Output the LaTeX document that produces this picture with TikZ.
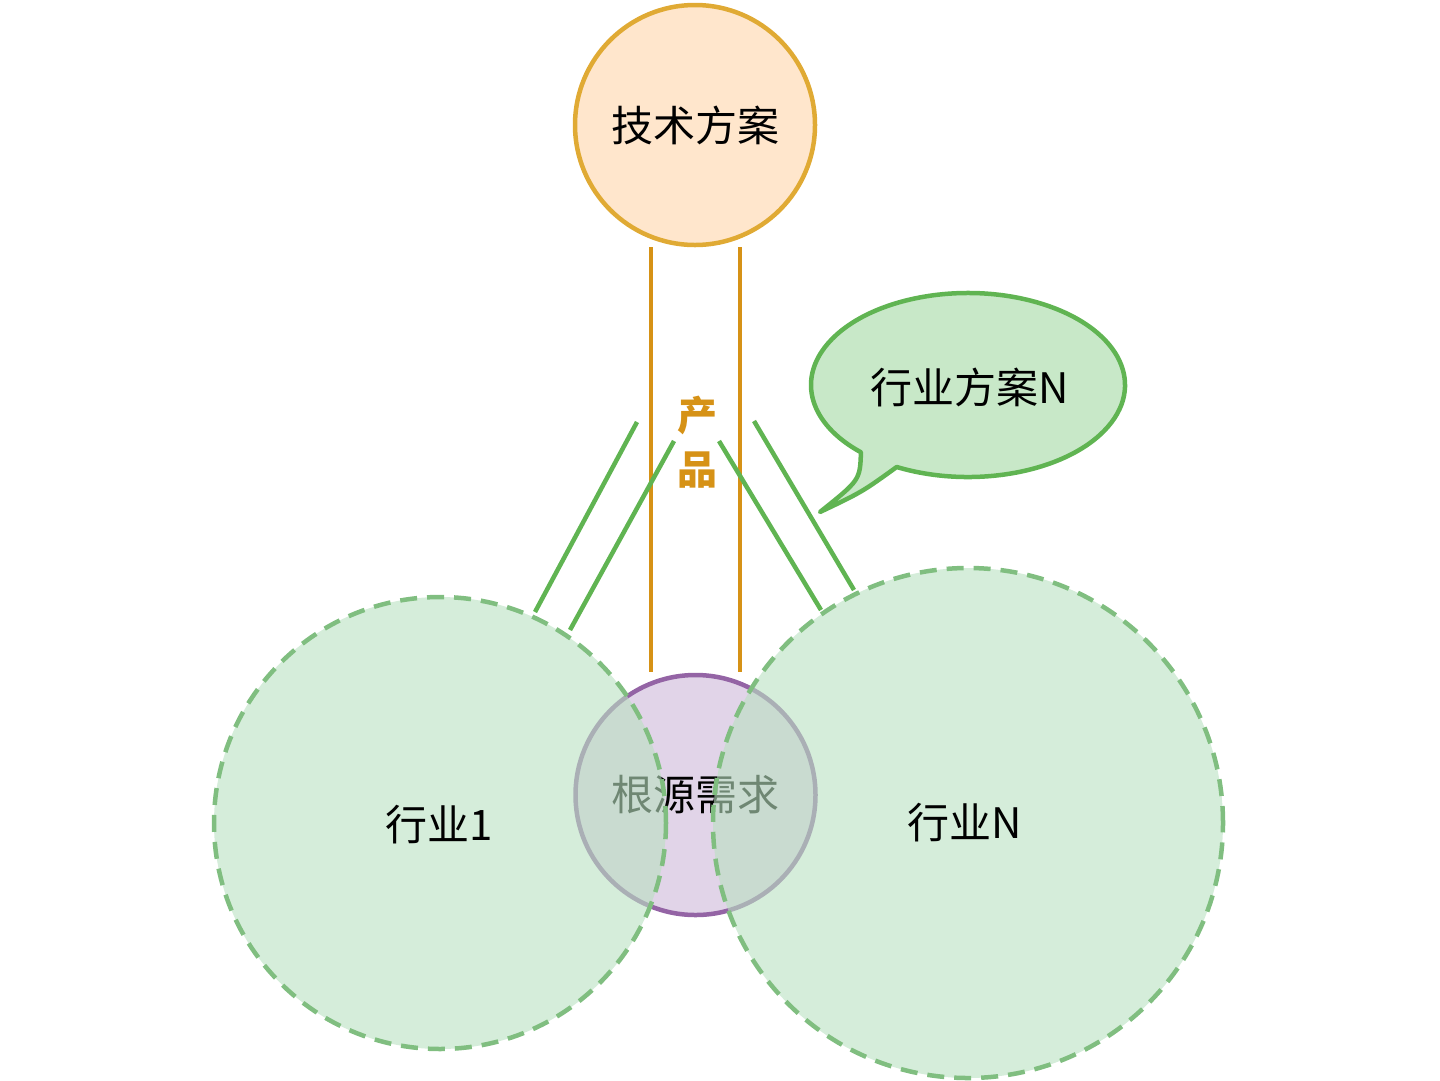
\documentclass[tikz,border=0pt]{standalone}
\usepackage{fontspec}
\setmainfont{Noto Sans CJK SC}
\usetikzlibrary{calc}
\definecolor{orstroke}{RGB}{224,170,52}
\definecolor{orfill}{RGB}{255,230,204}
\definecolor{orline}{RGB}{214,146,22}
\definecolor{grline}{RGB}{96,180,82}
\definecolor{grfill}{RGB}{185,225,193}
\definecolor{grdash}{RGB}{128,190,128}
\definecolor{puf}{RGB}{225,212,232}
\definecolor{pus}{RGB}{148,100,165}
\definecolor{callfill}{RGB}{200,232,200}
\tikzset{
  lbl/.style={font=\fontsize{42}{50}\selectfont, text=black},
  indcircle/.style={circle, fill=grfill, fill opacity=0.6, text opacity=1, draw=grdash, draw opacity=1, line width=4.5pt, dash pattern=on 17pt off 10pt, inner sep=0pt},
  prodline/.style={draw=orline, line width=4.5pt},
  indline/.style={draw=grline, line width=4.5pt},
  prodtext/.style={font=\fontsize{40}{44}\selectfont\bfseries, text=orline},
}
\begin{document}
\begin{tikzpicture}[x=1pt,y=-1pt]
\useasboundingbox (0,0) rectangle (1440,1080);
% top circle
\node[circle, draw=orstroke, fill=orfill, line width=4.5pt, minimum size=240pt, inner sep=0pt, lbl] (tech) at (695,125) {技术方案};
% product lines
\coordinate (p1a) at (651,247); \coordinate (p1b) at (651,672);
\coordinate (p2a) at (740,247); \coordinate (p2b) at (740,672);
\draw[prodline] (p1a) -- (p1b);
\draw[prodline] (p2a) -- (p2b);
\node[prodtext] (chan) at (697,415) {产};
\node[prodtext] (pin) at (697,470) {品};
% green lines
\coordinate (g1a) at (637,422); \coordinate (g1b) at (535,612);
\coordinate (g2a) at (674,441); \coordinate (g2b) at (570,630);
\coordinate (g3a) at (719,441); \coordinate (g3b) at (821,610);
\coordinate (g4a) at (754,421); \coordinate (g4b) at (854,590);
\draw[indline] (g1a) -- (g1b);
\draw[indline] (g2a) -- (g2b);
\draw[indline] (g3a) -- (g3b);
\draw[indline] (g4a) -- (g4b);
% root need
\node[circle, draw=pus, fill=puf, line width=4.5pt, minimum size=240pt, inner sep=0pt, lbl] (root) at (695.5,795) {根源需求};
% industry circles
\node[indcircle, minimum size=452pt] (ind1) at (440,823) {};
\node[indcircle, minimum size=510pt] (indN) at (968,823) {};
\node[lbl] (ind1t) at (439,825) {行业1};
\node[lbl] (indNt) at (965,823) {行业N};
% callout
\coordinate (cc) at (968,385);
\coordinate (tip) at (820,512);
\draw[draw=grline, fill=callfill, line width=4.5pt, line join=round]
  (tip) .. controls (862,492) .. ($(cc)+(117:157 and 92)$)
  arc[start angle=117, end angle=-227, x radius=157, y radius=92]
  .. controls (860,480) .. (tip) -- cycle;
\node[lbl] (callt) at (970,387) {行业方案N};
\end{tikzpicture}
\end{document}
